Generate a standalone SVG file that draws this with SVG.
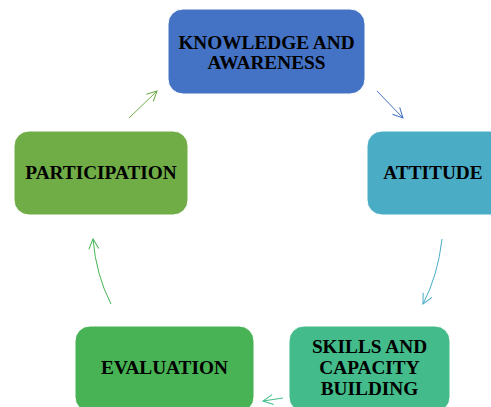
<svg xmlns="http://www.w3.org/2000/svg" width="491" height="407" viewBox="0 0 491 407">
<style>
.lbl{font-family:"Liberation Serif","Times New Roman",serif;font-weight:bold;font-size:19.3px;fill:#000;text-anchor:middle}
.box{stroke:#ffffff;stroke-width:1}
.con{fill:none;stroke-width:1}
</style>
<defs>
<marker id="a1" viewBox="0 0 12 12" refX="11" refY="6" markerWidth="12" markerHeight="12" markerUnits="userSpaceOnUse" orient="auto"><path d="M1,1 L11,6 L1,11" fill="none" stroke="#4472C4" stroke-width="1"/></marker>
<marker id="a2" viewBox="0 0 12 12" refX="11" refY="6" markerWidth="12" markerHeight="12" markerUnits="userSpaceOnUse" orient="auto"><path d="M1,1 L11,6 L1,11" fill="none" stroke="#4BACC6" stroke-width="1"/></marker>
<marker id="a3" viewBox="0 0 12 12" refX="11" refY="6" markerWidth="12" markerHeight="12" markerUnits="userSpaceOnUse" orient="auto"><path d="M1,1 L11,6 L1,11" fill="none" stroke="#43BB8A" stroke-width="1"/></marker>
<marker id="a4" viewBox="0 0 12 12" refX="11" refY="6" markerWidth="12" markerHeight="12" markerUnits="userSpaceOnUse" orient="auto"><path d="M1,1 L11,6 L1,11" fill="none" stroke="#47B354" stroke-width="1"/></marker>
<marker id="a5" viewBox="0 0 12 12" refX="11" refY="6" markerWidth="12" markerHeight="12" markerUnits="userSpaceOnUse" orient="auto"><path d="M1,1 L11,6 L1,11" fill="none" stroke="#70AD47" stroke-width="1"/></marker>
</defs>
<g id="connectors">
<path class="con" d="M377,91 L403,118" stroke="#4472C4" marker-end="url(#a1)"/>
<path class="con" d="M442,239 Q438,275 423,304" stroke="#4BACC6" marker-end="url(#a2)"/>
<path class="con" d="M283,398 L263,401" stroke="#43BB8A" marker-end="url(#a3)"/>
<path class="con" d="M111,304 Q96,275 93,239" stroke="#47B354" marker-end="url(#a4)"/>
<path class="con" d="M129,118 L157,91" stroke="#70AD47" marker-end="url(#a5)"/>
</g>
<g id="knowledge">
<rect class="box" x="168" y="9" width="197" height="85" rx="15" fill="#4472C4"/>
<text class="lbl" x="266.5" y="49.3"><tspan x="266.5" y="49.3">KNOWLEDGE AND</tspan><tspan x="266.5" y="68.5">AWARENESS</tspan></text>
</g>
<g id="attitude">
<rect class="box" x="367" y="131" width="140" height="84" rx="15" fill="#4BACC6"/>
<text class="lbl" x="433" y="179">ATTITUDE</text>
</g>
<g id="skills">
<rect class="box" x="289" y="326" width="161" height="86" rx="15" fill="#43BB8A"/>
<text class="lbl" x="369.5" y="353"><tspan x="369.5" y="353">SKILLS AND</tspan><tspan x="369.5" y="374">CAPACITY</tspan><tspan x="369.5" y="394.5">BUILDING</tspan></text>
</g>
<g id="evaluation">
<rect class="box" x="75" y="326" width="179" height="86" rx="15" fill="#47B354"/>
<text class="lbl" x="164.5" y="374">EVALUATION</text>
</g>
<g id="participation">
<rect class="box" x="14" y="131" width="174" height="84" rx="15" fill="#70AD47"/>
<text class="lbl" x="101" y="179">PARTICIPATION</text>
</g>
</svg>
